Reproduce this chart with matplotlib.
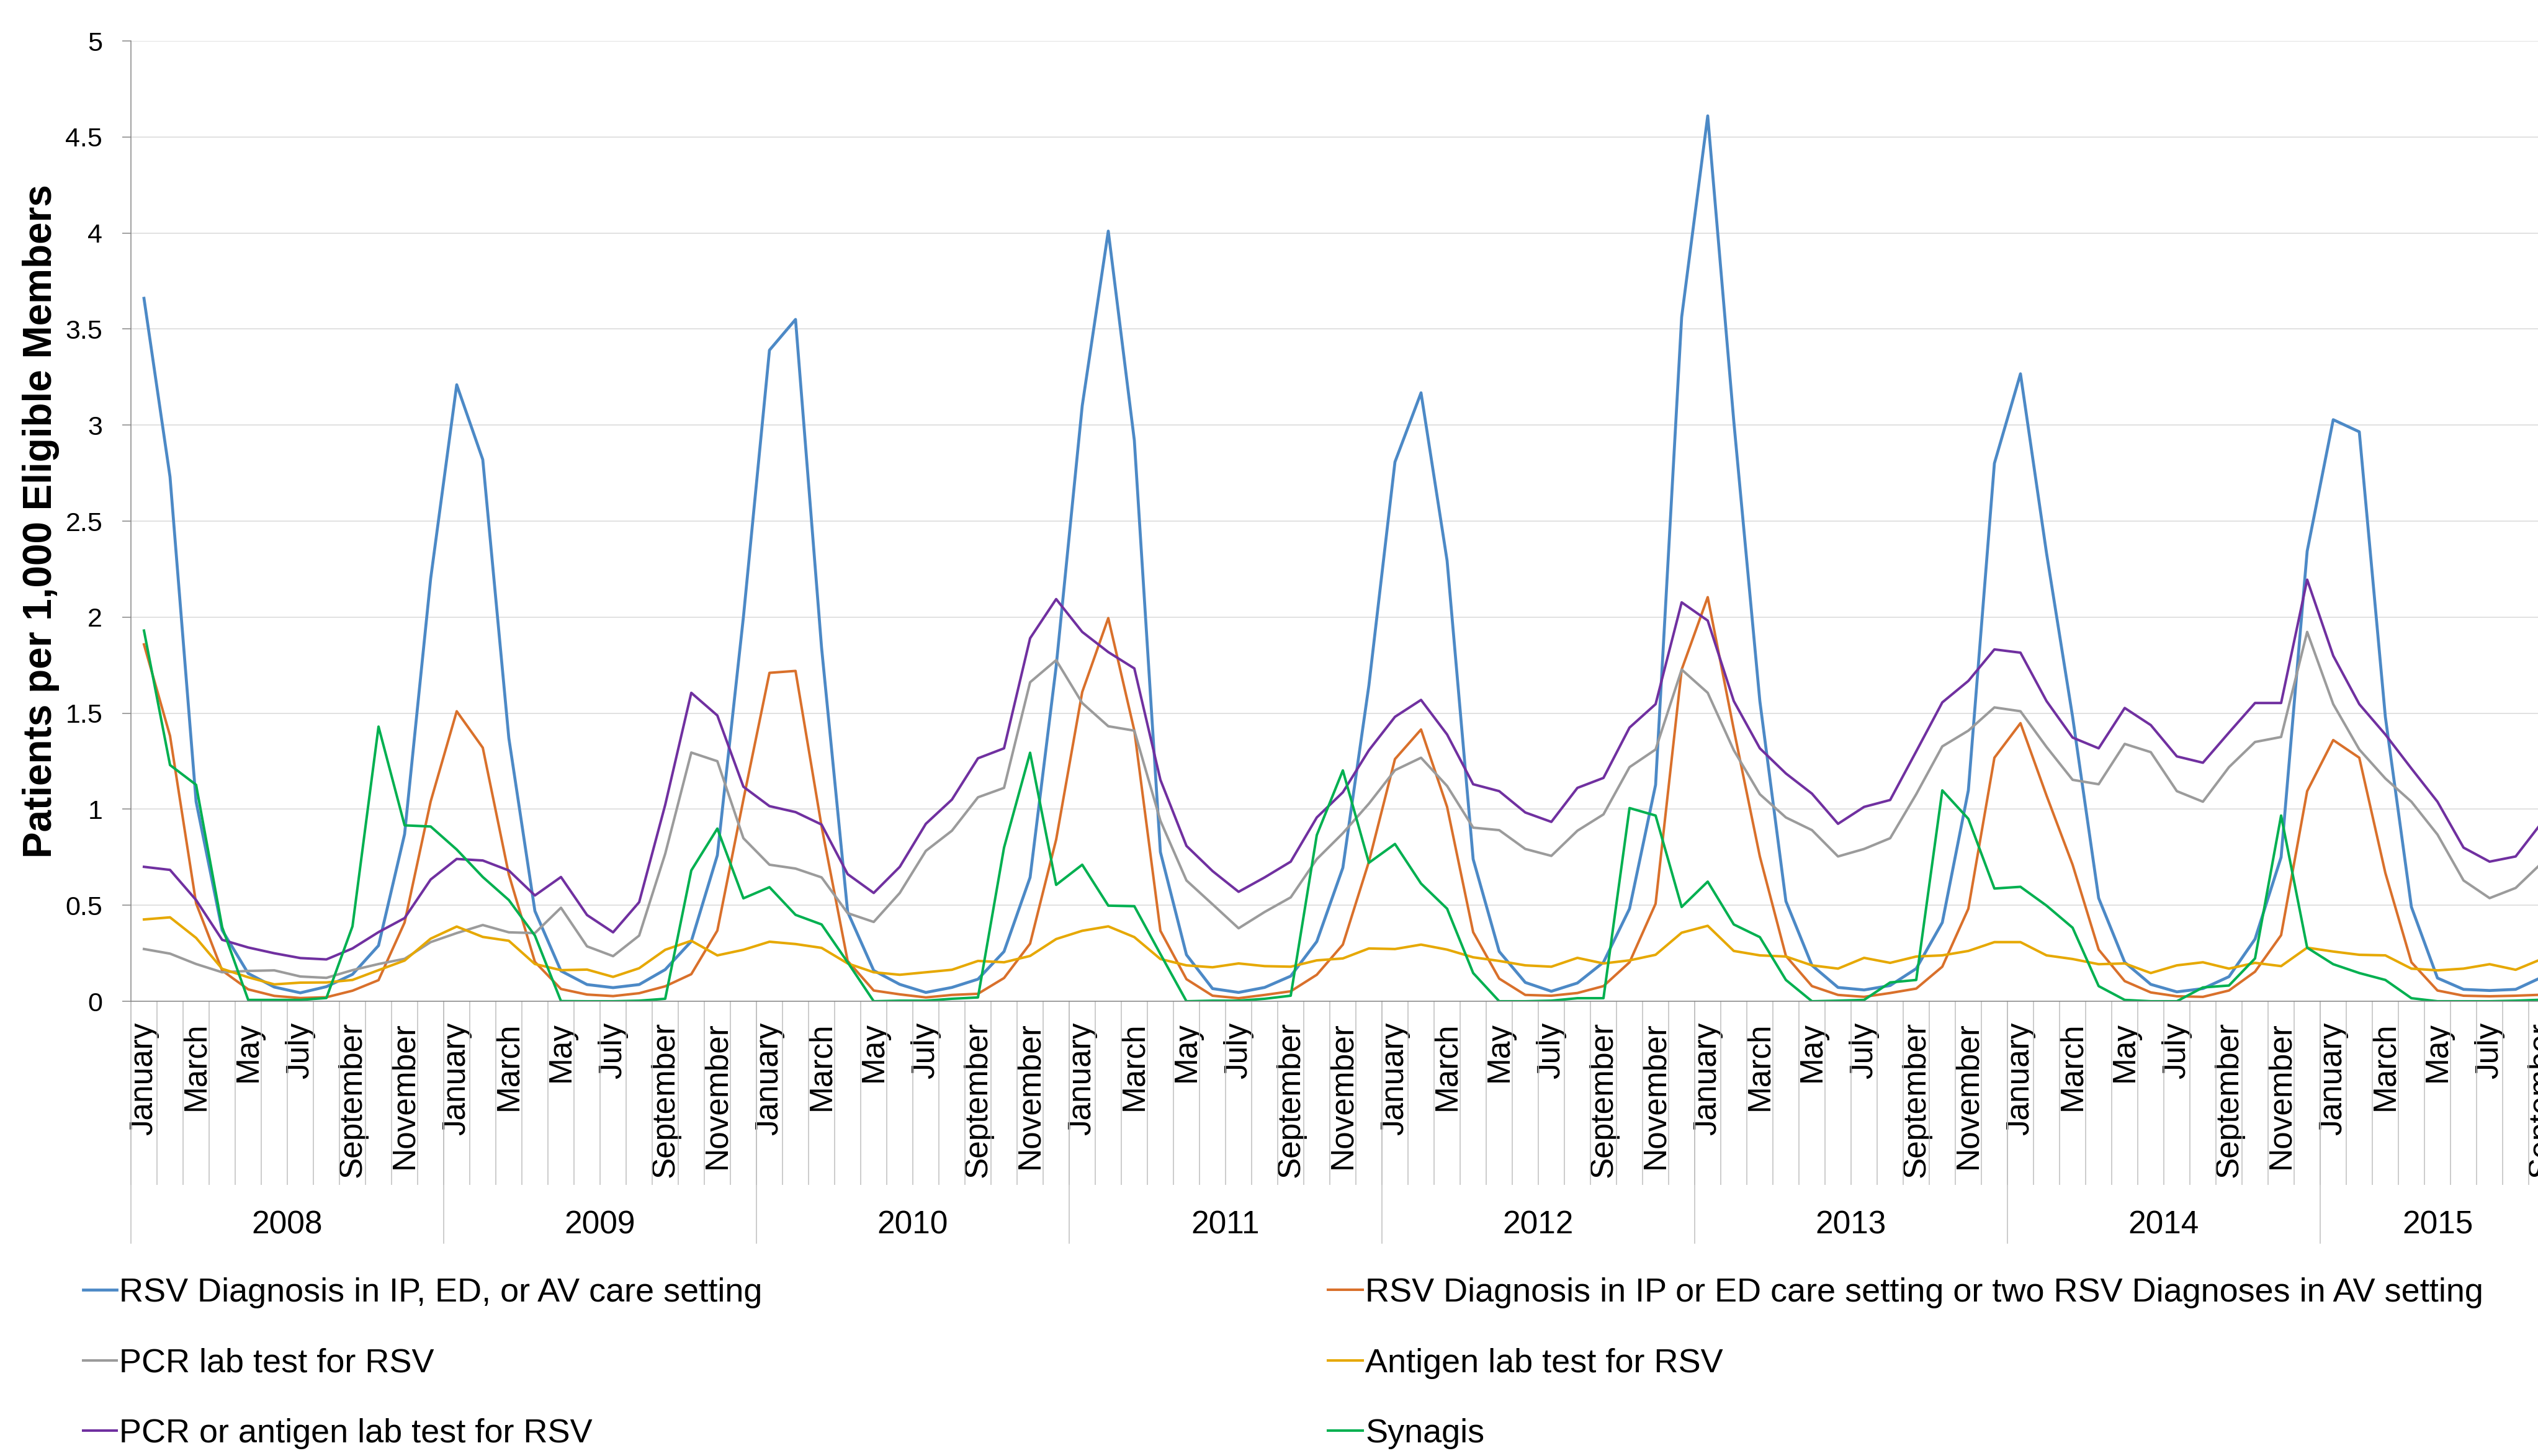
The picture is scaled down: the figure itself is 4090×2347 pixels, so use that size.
import matplotlib
matplotlib.use('Agg')
import matplotlib.pyplot as plt
import numpy as np
from matplotlib.lines import Line2D

plt.rcParams['font.family'] = ['Liberation Sans', 'DejaVu Sans']

MONTHS = ['January', 'February', 'March', 'April', 'May', 'June', 'July',
          'August', 'September', 'October', 'November', 'December']
YEARS = ['2008', '2009', '2010', '2011', '2012', '2013', '2014', '2015']

# monthly rates, Jan 2008 .. Sep 2015
rsv_dx_any = [
    3.66, 2.73, 1.04, 0.37, 0.145, 0.074, 0.044, 0.076, 0.14, 0.29, 0.87, 2.20,
    3.21, 2.82, 1.37, 0.47, 0.158, 0.087, 0.071, 0.087, 0.165, 0.312, 0.76, 2.00,
    3.39, 3.55, 1.84, 0.465, 0.16, 0.088, 0.046, 0.072, 0.115, 0.259, 0.645, 1.743,
    3.10, 4.01, 2.92, 0.777, 0.242, 0.066, 0.046, 0.072, 0.131, 0.311, 0.695, 1.645,
    2.808, 3.168, 2.294, 0.74, 0.259, 0.098, 0.052, 0.095, 0.203, 0.482, 1.127, 3.562,
    4.61, 3.02, 1.563, 0.521, 0.187, 0.072, 0.059, 0.082, 0.17, 0.41, 1.098, 2.801,
    3.267, 2.333, 1.481, 0.537, 0.203, 0.088, 0.049, 0.066, 0.128, 0.324, 0.75, 2.343,
    3.028, 2.965, 1.481, 0.491, 0.121, 0.062, 0.056, 0.062, 0.125,
]
rsv_dx_strict = [
    1.858, 1.382, 0.51, 0.16, 0.062, 0.028, 0.017, 0.021, 0.055, 0.11, 0.41, 1.04,
    1.51, 1.32, 0.66, 0.205, 0.064, 0.035, 0.027, 0.042, 0.078, 0.141, 0.368, 1.05,
    1.71, 1.72, 0.91, 0.21, 0.056, 0.036, 0.02, 0.033, 0.039, 0.121, 0.30, 0.842,
    1.61, 1.995, 1.409, 0.367, 0.115, 0.029, 0.016, 0.033, 0.052, 0.138, 0.295, 0.727,
    1.261, 1.415, 1.012, 0.36, 0.118, 0.033, 0.029, 0.043, 0.079, 0.203, 0.508, 1.727,
    2.104, 1.415, 0.754, 0.236, 0.079, 0.033, 0.023, 0.043, 0.066, 0.18, 0.482, 1.268,
    1.448, 1.071, 0.711, 0.269, 0.105, 0.046, 0.026, 0.023, 0.056, 0.154, 0.344, 1.094,
    1.36, 1.268, 0.668, 0.203, 0.056, 0.029, 0.026, 0.029, 0.034,
]
pcr_test = [
    0.272, 0.248, 0.194, 0.151, 0.158, 0.161, 0.129, 0.122, 0.162, 0.194, 0.221, 0.308,
    0.355, 0.397, 0.359, 0.355, 0.487, 0.286, 0.235, 0.342, 0.768, 1.295, 1.25, 0.849,
    0.711, 0.691, 0.645, 0.459, 0.413, 0.564, 0.783, 0.888, 1.062, 1.111, 1.661, 1.776,
    1.553, 1.432, 1.409, 0.94, 0.629, 0.505, 0.38, 0.465, 0.541, 0.74, 0.875, 1.029,
    1.203, 1.268, 1.121, 0.904, 0.891, 0.793, 0.757, 0.888, 0.973, 1.219, 1.311, 1.727,
    1.606, 1.307, 1.078, 0.957, 0.891, 0.754, 0.793, 0.849, 1.078, 1.327, 1.409, 1.53,
    1.51, 1.324, 1.153, 1.13, 1.34, 1.297, 1.094, 1.039, 1.219, 1.35, 1.376, 1.923,
    1.547, 1.311, 1.16, 1.039, 0.868, 0.629, 0.537, 0.59, 0.72,
]
antigen_test = [
    0.426, 0.437, 0.33, 0.169, 0.125, 0.088, 0.097, 0.098, 0.111, 0.162, 0.212, 0.326,
    0.389, 0.335, 0.315, 0.194, 0.162, 0.165, 0.127, 0.172, 0.268, 0.315, 0.239, 0.268,
    0.31, 0.298, 0.278, 0.197, 0.151, 0.138, 0.151, 0.164, 0.21, 0.203, 0.236, 0.324,
    0.367, 0.39, 0.334, 0.22, 0.187, 0.177, 0.197, 0.183, 0.18, 0.213, 0.223, 0.275,
    0.272, 0.295, 0.269, 0.229, 0.21, 0.187, 0.18, 0.226, 0.197, 0.213, 0.242, 0.357,
    0.393, 0.262, 0.239, 0.233, 0.187, 0.17, 0.226, 0.2, 0.233, 0.239, 0.262, 0.308,
    0.308, 0.239, 0.22, 0.193, 0.197, 0.147, 0.187, 0.203, 0.17, 0.2, 0.183, 0.279,
    0.259, 0.242, 0.239, 0.17, 0.161, 0.17, 0.193, 0.164, 0.22,
]
pcr_or_antigen = [
    0.70, 0.684, 0.527, 0.32, 0.28, 0.25, 0.225, 0.218, 0.275, 0.36, 0.433, 0.634,
    0.741, 0.733, 0.681, 0.551, 0.647, 0.449, 0.359, 0.516, 1.023, 1.606, 1.488, 1.117,
    1.016, 0.985, 0.92, 0.662, 0.564, 0.70, 0.924, 1.05, 1.265, 1.317, 1.89, 2.094,
    1.923, 1.818, 1.733, 1.153, 0.809, 0.678, 0.57, 0.645, 0.727, 0.957, 1.088, 1.307,
    1.481, 1.569, 1.389, 1.13, 1.094, 0.983, 0.934, 1.111, 1.163, 1.425, 1.547, 2.077,
    1.982, 1.563, 1.317, 1.186, 1.081, 0.924, 1.012, 1.048, 1.301, 1.556, 1.668, 1.832,
    1.815, 1.563, 1.373, 1.317, 1.527, 1.438, 1.275, 1.242, 1.399, 1.553, 1.553, 2.195,
    1.799, 1.547, 1.389, 1.212, 1.039, 0.80, 0.727, 0.754, 0.93,
]
synagis = [
    1.93, 1.23, 1.127, 0.386, 0.007, 0.007, 0.007, 0.017, 0.39, 1.43, 0.916, 0.91,
    0.79, 0.647, 0.527, 0.342, 0.001, 0.0, 0.0, 0.003, 0.013, 0.681, 0.899, 0.536,
    0.594, 0.45, 0.40, 0.203, 0.0, 0.003, 0.003, 0.013, 0.02, 0.80, 1.294, 0.606,
    0.711, 0.498, 0.495, 0.246, 0.0, 0.003, 0.003, 0.013, 0.029, 0.865, 1.202, 0.721,
    0.819, 0.613, 0.482, 0.147, 0.0, 0.0, 0.003, 0.016, 0.016, 1.006, 0.967, 0.491,
    0.623, 0.40, 0.334, 0.111, 0.0, 0.003, 0.007, 0.098, 0.111, 1.098, 0.95, 0.587,
    0.596, 0.498, 0.383, 0.079, 0.007, 0.0, 0.0, 0.072, 0.082, 0.223, 0.967, 0.279,
    0.193, 0.147, 0.111, 0.016, 0.0, 0.0, 0.0, 0.003, 0.008,
]

SERIES = [
    ('RSV Diagnosis in IP, ED, or AV care setting', rsv_dx_any, '#4C89C6', 3.4),
    ('RSV Diagnosis in IP or ED care setting or two RSV Diagnoses in AV setting', rsv_dx_strict, '#D9702B', 2.9),
    ('PCR lab test for RSV', pcr_test, '#9B9B9B', 2.9),
    ('Antigen lab test for RSV', antigen_test, '#E6A800', 2.9),
    ('PCR or antigen lab test for RSV', pcr_or_antigen, '#7030A0', 2.9),
    ('Synagis', synagis, '#00B050', 2.9),
]

W, H = 4091, 2347
AXIS_GRAY = '#868686'
TICK_GRAY = '#BFBFBF'


def px_x(v):
    return v / W


def px_y(v):
    return 1 - v / H


n = len(rsv_dx_any)
x = np.arange(n)
month_labels = [MONTHS[i % 12] if i % 2 == 0 else '' for i in range(n)]

fig = plt.figure(figsize=(W / 100, H / 100), dpi=100)

# plot area runs a little past the right edge, as in the source image
left, right, top, bottom = 211, 4117, 66, 1614
ax = fig.add_axes([px_x(left), px_y(bottom), (right - left) / W, (bottom - top) / H])

for label, vals, color, lw in SERIES:
    ax.plot(x, vals, color=color, lw=lw, solid_joinstyle='round')

ax.set_xlim(-0.5, n - 0.5)
ax.set_ylim(0, 5)
ax.set_axisbelow(True)
ax.yaxis.grid(True, color='#D9D9D9', lw=1.1)

for side in ['top', 'right']:
    ax.spines[side].set_visible(False)
for side in ['left', 'bottom']:
    ax.spines[side].set_color(AXIS_GRAY)
    ax.spines[side].set_linewidth(1.1)

yt = np.arange(0, 5.01, 0.5)
ax.set_yticks(yt)
ax.set_yticklabels(['{:g}'.format(v) for v in yt])
ax.tick_params(axis='y', length=10, width=1.1, color=AXIS_GRAY, pad=23, labelsize=31)

# month labels at category centres, boundary marks as minor ticks
ax.set_xticks(x)
ax.set_xticklabels(month_labels, rotation=90)
ax.tick_params(axis='x', which='major', length=0, pad=24, labelsize=37)
ax.set_xticks(np.arange(-0.5, n, 1.0), minor=True)
ax.tick_params(axis='x', which='minor', length=213, width=1.1, color=TICK_GRAY, direction='out')

# year groups
xt = ax.get_xaxis_transform()
year_line_depth = -(2004 - bottom) / (bottom - top)
year_label_y = -(1975 - bottom) / (bottom - top)
for k, year in enumerate(YEARS):
    start = 12 * k - 0.5
    end = min(12 * (k + 1), n) - 0.5
    ax.plot([start, start], [0, year_line_depth], transform=xt, clip_on=False,
            color=TICK_GRAY, lw=1.1)
    ax.text((start + end) / 2, year_label_y, year, transform=xt, ha='center', va='center',
            fontsize=37)

fig.text(px_x(66), px_y((top + bottom) / 2), 'Patients per 1,000 Eligible Members',
         rotation=90, ha='center', va='center', fontsize=46, fontweight='bold')

# legend, two columns filled row by row
rows = [2079, 2193, 2306]
cols = [(134, 188, 192), (2140, 2196, 2200)]
for i, (label, vals, color, lw) in enumerate(SERIES):
    x0, x1, xt0 = cols[i % 2]
    yy = rows[i // 2]
    fig.add_artist(Line2D([px_x(x0), px_x(x1)], [px_y(yy), px_y(yy)], color=color, lw=lw))
    fig.text(px_x(xt0), px_y(yy + 19), label, ha='left', va='baseline', fontsize=38.9)

fig.savefig('out.png', dpi=100)
